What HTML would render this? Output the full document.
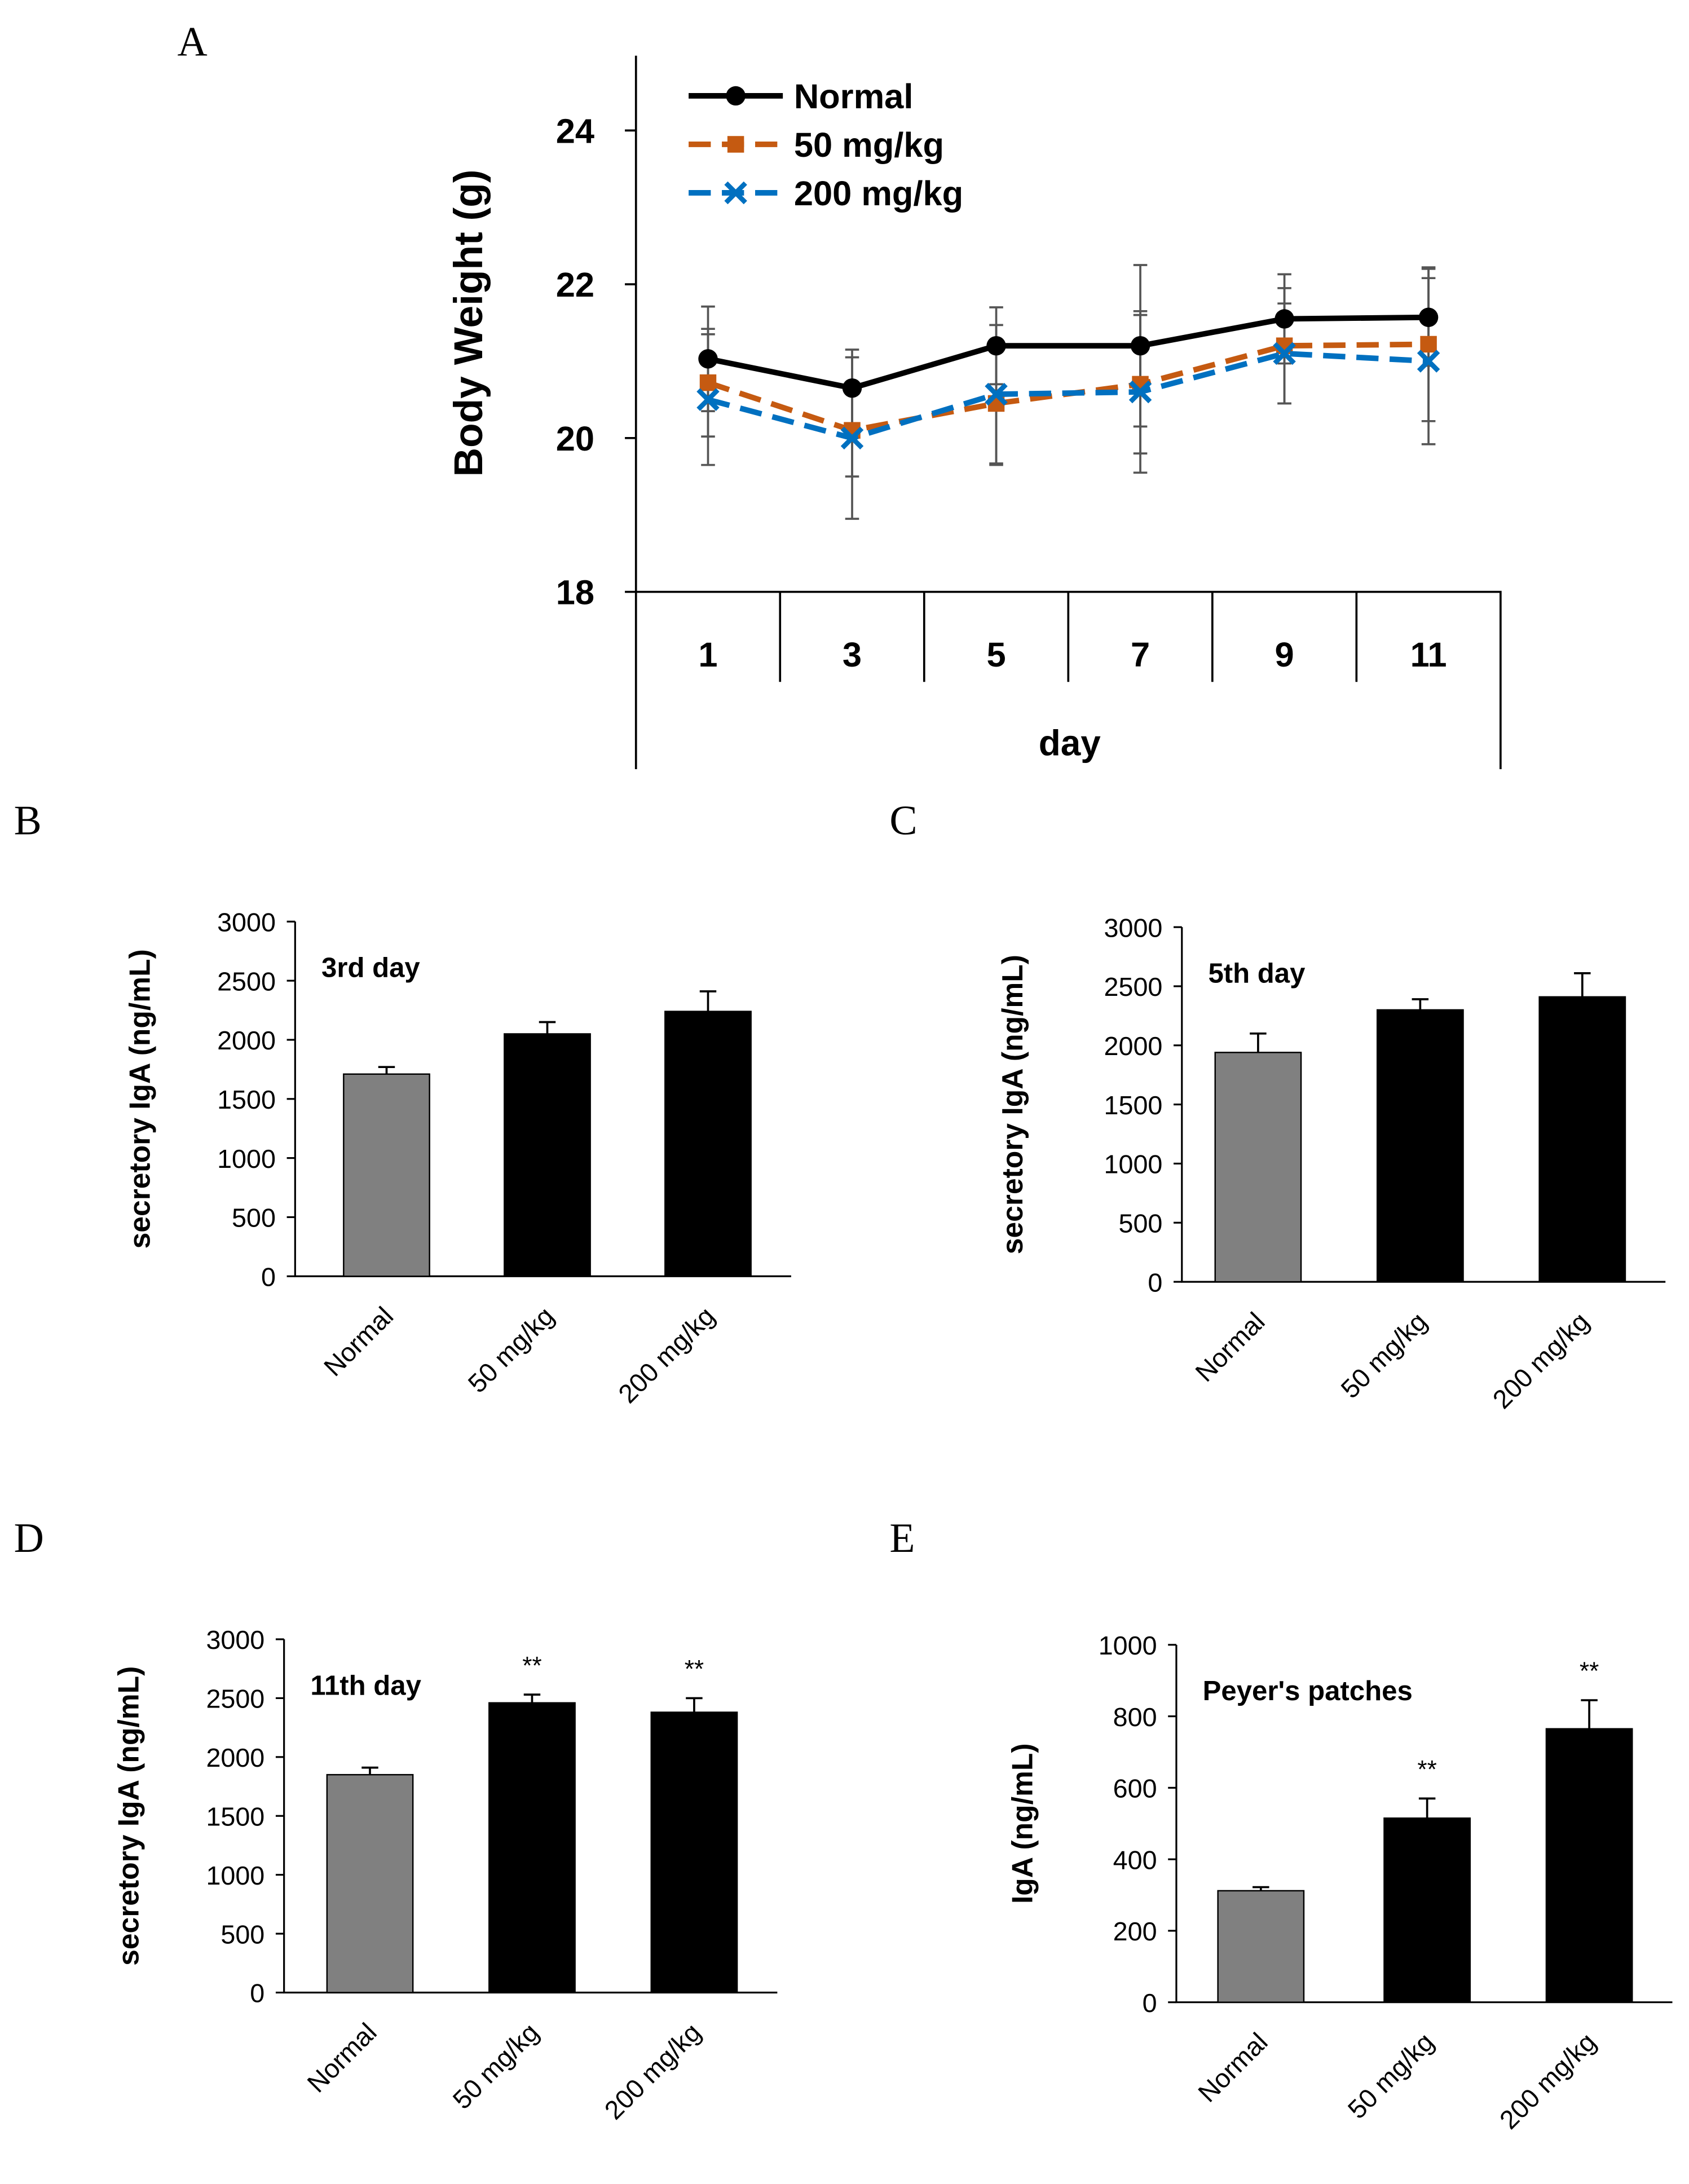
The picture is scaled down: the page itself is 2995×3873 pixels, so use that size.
<!DOCTYPE html>
<html><head><meta charset="utf-8"><style>html,body{margin:0;padding:0;background:#fff}svg{display:block}</style></head>
<body>
<svg id="fig" xmlns="http://www.w3.org/2000/svg" width="2995" height="3873" viewBox="0 0 1219 1576" font-family="Liberation Sans, sans-serif">
<rect width="1219" height="1576" fill="#fff"/>
<g font-family="Liberation Serif, serif" font-size="30" fill="#000">
<text x="128" y="40">A</text>
<text x="10" y="602">B</text>
<text x="642" y="602">C</text>
<text x="10" y="1120">D</text>
<text x="642" y="1120">E</text>
</g>
<g id="pa"></g>
<g id="pb"></g>
<g id="pc"></g>
<g id="pd"></g>
<g id="pe"></g>
</svg>
<script>
// ---- Panel A data ----
const days = ["1","3","5","7","9","11"];
const normalW = [21.03, 20.65, 21.2, 21.2, 21.55, 21.57];
const normalE = [0.68, 0.5, 0.5, 1.05, 0.58, 0.63];
const mg50W = [20.72, 20.1, 20.45, 20.7, 21.2, 21.22];
const mg50E = [0.7, 0.6, 0.8, 0.9, 0.75, 1.0];
const mg200W = [20.5, 20.0, 20.57, 20.6, 21.1, 21.0];
const mg200E = [0.85, 1.05, 0.9, 1.05, 0.65, 1.08];
const weightTicks = [18, 20, 22, 24];
// ---- Bar panels data ----
const groups = ["Normal", "50 mg/kg", "200 mg/kg"];
const igaDay3 = [1710, 2050, 2240];
const igaDay3Err = [60, 100, 170];
const igaDay5 = [1940, 2300, 2410];
const igaDay5Err = [160, 90, 200];
const igaDay11 = [1850, 2460, 2380];
const igaDay11Err = [60, 70, 120];
const igaDay11Sig = ["", "**", "**"];
const igaPP = [312, 515, 765];
const igaPPErr = [10, 55, 80];
const igaPPSig = ["", "**", "**"];
const igaTicks = [0, 500, 1000, 1500, 2000, 2500, 3000];
const ppTicks = [0, 200, 400, 600, 800, 1000];

const NS = "http://www.w3.org/2000/svg";
function mk(parent, tag, attrs, text) {
  const e = document.createElementNS(NS, tag);
  for (const k in attrs) e.setAttribute(k, attrs[k]);
  if (text !== undefined) e.textContent = text;
  parent.appendChild(e);
  return e;
}

// ---- Panel A ----
(function () {
  const g = document.getElementById("pa");
  const x0 = 459, cw = 104, yBase = 427;
  const y = v => 316 - (v - 20) * 55.5;
  const x = i => x0 + cw * i + cw / 2;
  const ax = mk(g, "path", { d: `M${x0} 40V555M${x0} ${yBase}H1083V555`, stroke: "#000", "stroke-width": 1.5, fill: "none" });
  
  
  for (let i = 1; i < days.length; i++) mk(g, "line", { x1: x0 + cw * i, x2: x0 + cw * i, y1: yBase, y2: 492, stroke: "#000", "stroke-width": 1.5 });
  weightTicks.forEach(t => {
    mk(g, "line", { x1: x0 - 8, x2: x0, y1: y(t), y2: y(t), stroke: "#000", "stroke-width": 1.5 });
    const tl = mk(g, "text", { x: x0 - 30, y: y(t) + 9, "text-anchor": "end", "font-size": 25, "font-weight": "bold" }, t);
    
    
  });
  days.forEach((d, i) => {
    const tl = mk(g, "text", { x: x(i), y: 481, "text-anchor": "middle", "font-size": 25, "font-weight": "bold" }, d);
    
    
  });
  const xt = mk(g, "text", { x: 772, y: 545, "text-anchor": "middle", "font-size": 26, "font-weight": "bold" }, "day");
  
  
  const yt = mk(g, "text", { transform: "translate(348,233) rotate(-90)", "text-anchor": "middle", "font-size": 29, "font-weight": "bold" }, "Body Weight (g)");
  
  

  const series = [
    { v: normalW, e: normalE, c: "#000", dash: "", m: "circle", name: "normal" },
    { v: mg50W, e: mg50E, c: "#c55a11", dash: "16 8", m: "square", name: "50mg" },
    { v: mg200W, e: mg200E, c: "#0070c0", dash: "16 8", m: "x", name: "200mg" }
  ];
  series.forEach(s => s.v.forEach((v, i) => {
    const eb = mk(g, "path", { d: `M${x(i)} ${y(v + s.e[i])}V${y(v - s.e[i])}M${x(i) - 5} ${y(v + s.e[i])}h10M${x(i) - 5} ${y(v - s.e[i])}h10`, stroke: "#555", "stroke-width": 1.5, fill: "none" });
    
    
  }));
  function marker(s, cx, cy) {
    let m;
    if (s.m === "circle") m = mk(g, "circle", { cx, cy, r: 7, fill: s.c });
    else if (s.m === "square") m = mk(g, "rect", { x: cx - 6, y: cy - 6, width: 12, height: 12, fill: s.c });
    else m = mk(g, "path", { d: `M${cx - 7} ${cy - 7}L${cx + 7} ${cy + 7}M${cx - 7} ${cy + 7}L${cx + 7} ${cy - 7}`, stroke: s.c, "stroke-width": 3.5 });
    return m;
  }
  series.forEach(s => {
    const ln = mk(g, "polyline", { points: s.v.map((v, i) => `${x(i)},${y(v)}`).join(" "), fill: "none", stroke: s.c, "stroke-width": 4, "stroke-dasharray": s.dash });
    
    
    s.v.forEach((v, i) => {
      const m = marker(s, x(i), y(v));
      
      
    });
  });
  const labels = ["Normal", "50 mg/kg", "200 mg/kg"];
  series.forEach((s, k) => {
    const ly = 69 + 35 * k;
    const ll = mk(g, "line", { x1: 497, x2: 565, y1: ly, y2: ly, stroke: s.c, "stroke-width": 4, "stroke-dasharray": s.dash });
    
    
    marker(s, 531, ly);
    const lt = mk(g, "text", { x: 573, y: ly + 9, "font-size": 25, "font-weight": "bold" }, labels[k]);
    
    
  });
})();

// ---- Bar panels ----
function barChart(id, cfg) {
  const g = document.getElementById(id);
  const { ax, yTop, y0, max, ticks, vals, errs, sig, centers, title, ytitle, ytx } = cfg;
  const y = v => y0 - (v / max) * (y0 - yTop);
  const a = mk(g, "path", { d: `M${ax} ${yTop}V${y0}H${centers[2] + 60}`, stroke: "#000", "stroke-width": 1.3, fill: "none" });
  
  
  ticks.forEach(t => {
    mk(g, "line", { x1: ax - 6, x2: ax, y1: y(t), y2: y(t), stroke: "#000", "stroke-width": 1.3 });
    const tl = mk(g, "text", { x: ax - 14, y: y(t) + 7, "text-anchor": "end", "font-size": 19 }, t);
    
    
  });
  vals.forEach((v, i) => {
    const b = mk(g, "rect", { x: centers[i] - 31, y: y(v), width: 62, height: y0 - y(v), fill: i === 0 ? "#808080" : "#000", stroke: "#000", "stroke-width": 1 });
    
    
    const eb = mk(g, "path", { d: `M${centers[i]} ${y(v)}V${y(v + errs[i])}M${centers[i] - 6} ${y(v + errs[i])}h12`, stroke: "#000", "stroke-width": 1.5, fill: "none" });
    
    
    if (sig && sig[i]) {
      const st = mk(g, "text", { x: centers[i], y: y(v + errs[i]) - 15, "text-anchor": "middle", "font-size": 18 }, sig[i]);
      
      
    }
    const xl = mk(g, "text", { transform: `translate(${centers[i] + 6},${y0 + 30}) rotate(-45)`, "text-anchor": "end", "font-size": 19 }, groups[i]);
    
    
  });
  const tt = mk(g, "text", { x: ax + 19, y: yTop + 40, "font-size": 20, "font-weight": "bold" }, title);
  
  
  const yt = mk(g, "text", { transform: `translate(${ytx},${(yTop + y0) / 2}) rotate(-90)`, "text-anchor": "middle", "font-size": 21, "font-weight": "bold" }, ytitle);
  
  
}
barChart("pb", { ax: 213, yTop: 665, y0: 921, max: 3000, ticks: igaTicks, vals: igaDay3, errs: igaDay3Err, centers: [279, 395, 511], title: "3rd day", ytitle: "secretory IgA (ng/mL)", ytx: 108 });
barChart("pc", { ax: 853, yTop: 669, y0: 925, max: 3000, ticks: igaTicks, vals: igaDay5, errs: igaDay5Err, centers: [908, 1025, 1142], title: "5th day", ytitle: "secretory IgA (ng/mL)", ytx: 738 });
barChart("pd", { ax: 205, yTop: 1183, y0: 1438, max: 3000, ticks: igaTicks, vals: igaDay11, errs: igaDay11Err, sig: igaDay11Sig, centers: [267, 384, 501], title: "11th day", ytitle: "secretory IgA (ng/mL)", ytx: 100 });
barChart("pe", { ax: 849, yTop: 1187, y0: 1445, max: 1000, ticks: ppTicks, vals: igaPP, errs: igaPPErr, sig: igaPPSig, centers: [910, 1030, 1147], title: "Peyer's patches", ytitle: "IgA (ng/mL)", ytx: 745 });
</script>
</body></html>
